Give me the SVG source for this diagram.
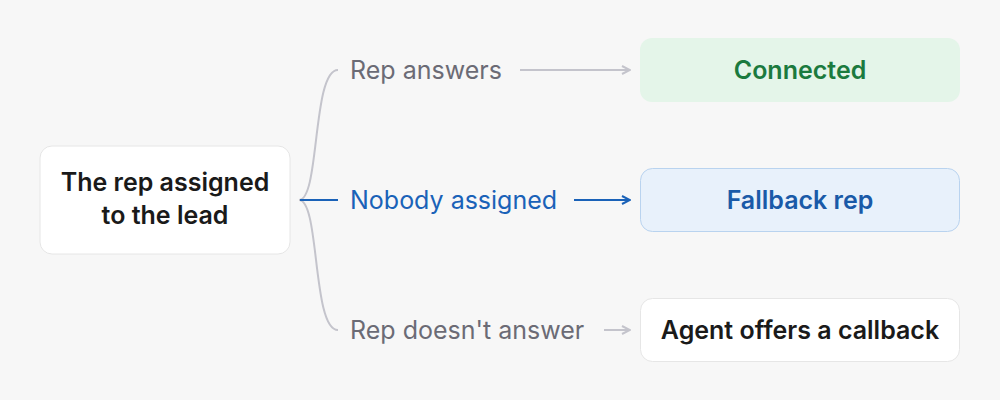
<svg xmlns="http://www.w3.org/2000/svg" width="1000" height="400" viewBox="0 0 1000 400">
<style>
text{font-family:Inter,"Liberation Sans",sans-serif;font-size:25px}
.b{font-weight:600;fill:#1a1a1a;text-anchor:middle}
.l{fill:#6b6b75}
.g{fill:none;stroke:#c4c4cc;stroke-width:2}
.bl{fill:none;stroke:#1a62b8;stroke-width:2}
</style>
<defs>
<marker id="ag" viewBox="0 0 10 10" refX="9" refY="5" markerWidth="10" markerHeight="10" markerUnits="userSpaceOnUse" orient="auto"><path d="M1 1L9 5L1 9" fill="none" stroke="#c4c4cc" stroke-width="2"/></marker>
<marker id="ab" viewBox="0 0 10 10" refX="9" refY="5" markerWidth="10" markerHeight="10" markerUnits="userSpaceOnUse" orient="auto"><path d="M1 1L9 5L1 9" fill="none" stroke="#1a62b8" stroke-width="2"/></marker>
</defs>
<rect width="1000" height="400" fill="#f7f7f7"/>
<g id="connectors">
<path class="g" d="M299 200C320 200 312 70 338 70"/>
<path class="g" d="M299 200C320 200 312 330 338 330"/>
<path class="bl" d="M300 200H338"/>
<path class="g" d="M520 70H630" marker-end="url(#ag)"/>
<path class="bl" d="M574 200H630" marker-end="url(#ab)"/>
<path class="g" d="M604 330H630" marker-end="url(#ag)"/>
</g>
<g id="lbl1"><text class="l" x="350" y="79">Rep answers</text></g>
<g id="lbl2"><text x="350" y="209" style="fill:#1a62b8">Nobody assigned</text></g>
<g id="lbl3"><text class="l" x="350" y="339">Rep doesn't answer</text></g>
<g id="source"><rect x="40" y="146" width="250" height="108" rx="12" fill="#fff" stroke="#e6e6e6"/>
<text class="b" x="165" y="191">The rep assigned</text><text class="b" x="165" y="224">to the lead</text></g>
<g id="connected"><rect x="640" y="38" width="320" height="64" rx="12" fill="#e4f5e9"/>
<text class="b" x="800" y="79" style="fill:#1b7a3e">Connected</text></g>
<g id="fallback"><rect x="640.5" y="168.5" width="319" height="63" rx="12" fill="#e8f1fb" stroke="#b9d3ef"/>
<text class="b" x="800" y="209" style="fill:#1a5aa8">Fallback rep</text></g>
<g id="callback"><rect x="640.5" y="298.5" width="319" height="63" rx="12" fill="#fff" stroke="#e6e6e6"/>
<text class="b" x="800" y="339">Agent offers a callback</text></g>
</svg>
